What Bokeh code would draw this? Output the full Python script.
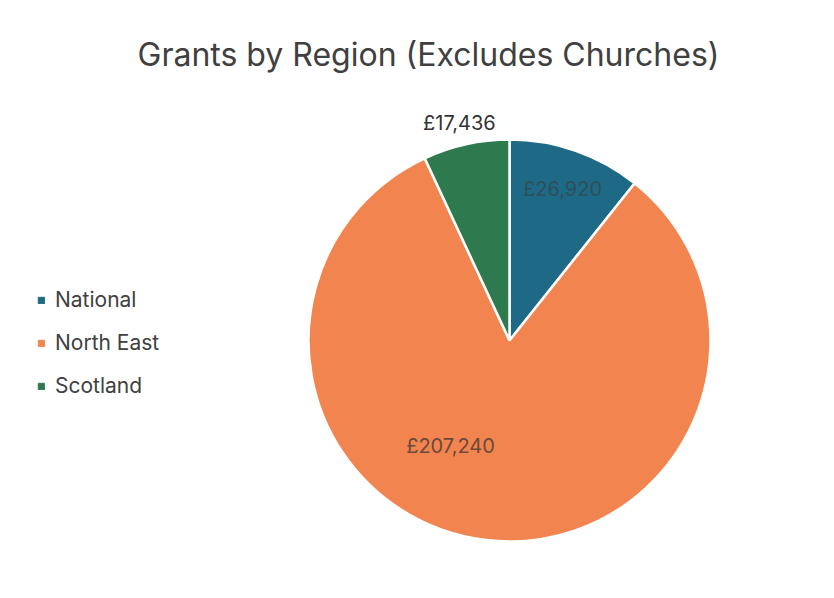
import math
from bokeh.plotting import figure
from bokeh.models import Range1d, Label, Legend, LegendItem, ColumnDataSource
from bokeh.core.properties import value
from bokeh.embed import file_html
from bokeh.resources import INLINE

title = "Grants by Region (Excludes Churches)"
regions = ["National", "North East", "Scotland"]
amounts = [26920, 207240, 17436]
labels = ["£26,920", "£207,240", "£17,436"]
colors = ["#1e6a86", "#f2854f", "#2e7a4e"]
label_colors = ["#2f4f5a", "#6a4a3a", "#333333"]
label_radius = [0.8, 0.6, 1.11]
label_angle_shift_deg = [0, -22.5, 0.5]

W, H = 818, 582
R = 201
CX, CY = 509, 340
FONT = "Inter"
TXT = "#404040"

p = figure(width=W, height=H, output_backend="svg", toolbar_location=None,
           x_range=Range1d(-CX, W - CX), y_range=Range1d(-(H - CY), CY),
           min_border=0, outline_line_color=None)
p.axis.visible = False
p.grid.visible = False
p.background_fill_color = "white"
p.border_fill_color = "white"

total = sum(amounts)
starts, ends, mids = [], [], []
cum = 0.0
for a in amounts:
    s = math.pi / 2 - 2 * math.pi * cum / total
    cum += a
    e = math.pi / 2 - 2 * math.pi * cum / total
    starts.append(s)
    ends.append(e)
    mids.append((s + e) / 2)

src = ColumnDataSource(dict(start=starts, end=ends, color=colors))
p.wedge(x=0, y=0, radius=R, start_angle="start", end_angle="end",
        direction="clock", fill_color="color", line_color="white",
        line_width=2.5, source=src)

ang = [mids[i] + math.radians(label_angle_shift_deg[i]) for i in range(3)]
lx = [label_radius[i] * R * math.cos(ang[i]) for i in range(3)]
ly = [label_radius[i] * R * math.sin(ang[i]) for i in range(3)]
p.text(x=lx, y=ly, text=labels, text_align="center", text_baseline="middle",
       text_font=value(FONT), text_font_size="20px", text_color=label_colors)

p.add_layout(Label(x=428, y=H - 54, x_units="screen", y_units="screen", text=title,
                   text_align="center", text_baseline="middle",
                   text_font=FONT, text_font_size="32px", text_color=TXT))

items = []
for i, r in enumerate(regions):
    rr = p.quad(left=[-3000], right=[-2990], bottom=[-3000], top=[-2990],
                fill_color=colors[i], line_color=colors[i])
    items.append(LegendItem(label=r, renderers=[rr]))
legend = Legend(items=items, location=(37, 184), orientation="vertical",
                label_text_font=FONT, label_text_font_size="21px",
                label_text_color=TXT, glyph_width=8, glyph_height=8,
                label_height=22, spacing=18, padding=0, margin=0,
                label_standoff=10, border_line_color=None,
                background_fill_alpha=0)
p.add_layout(legend, "center")

open("out.html", "w").write(file_html(p, INLINE))
